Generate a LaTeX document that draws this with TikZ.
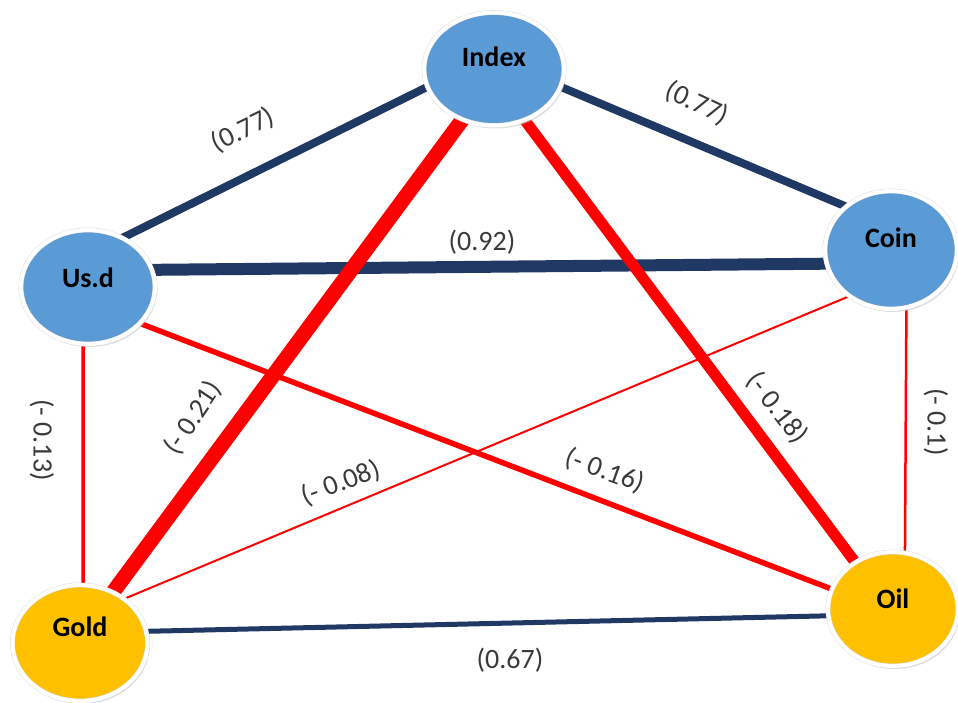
\documentclass[tikz,border=0pt]{standalone}
\usepackage{fontspec}
\setmainfont{Carlito}
\usepackage{tikz}
\usetikzlibrary{shapes,shadows,backgrounds}
\definecolor{navy}{HTML}{203864}
\definecolor{bubblue}{HTML}{5B9BD5}
\definecolor{bubgold}{HTML}{FFC000}
\definecolor{lblgray}{HTML}{3A3A3A}
\tikzset{bubble/.style={ellipse,inner sep=0pt,draw=gray!30,double=white,double distance=4pt,
   drop shadow={shadow xshift=2pt,shadow yshift=-3pt,fill=gray!50}},
 nodetxt/.style={font=\fontsize{28}{30}\selectfont\bfseries,text=black},
 poscor/.style={draw=navy,line cap=butt},
 negcor/.style={draw=red,line cap=butt},
 val/.style={text=lblgray,font=\fontsize{28}{30}\selectfont,inner sep=1pt},
 }

\begin{document}
\begin{tikzpicture}[x=1pt,y=-1pt]
        \useasboundingbox (0,0) rectangle (958,702);
        \node[bubble,fill=bubblue,minimum width=140pt,minimum height=113pt,
            label={[nodetxt,yshift=12pt]center:Index}] (index) at (494,69) {};
        \node[bubble,fill=bubblue,minimum width=134pt,minimum height=114pt,
            label={[nodetxt,yshift=9pt]center:Us.d}] (usd) at (88,287) {};
        \node[bubble,fill=bubblue,minimum width=132pt,minimum height=118pt,
            label={[nodetxt,yshift=12pt]center:Coin}] (coin) at (891,250) {};
        \node[bubble,fill=bubgold,minimum width=135pt,minimum height=116pt,
            label={[nodetxt,yshift=16pt]center:Gold}] (gold) at (80,643) {};
        \node[bubble,fill=bubgold,minimum width=130pt,minimum height=114pt,
            label={[nodetxt,yshift=10pt]center:Oil}] (oil) at (893,609) {};

        \begin{scope}[on background layer]
        \draw[poscor,line width=8pt] (usd.55) -- (index.195);
        \draw[poscor,line width=8pt] (index.-15) -- (coin.136);
        \draw[poscor,line width=12pt] (usd.15) -- (coin.192);
        \draw[poscor,line width=5pt] (gold.10) -- (oil.186);
        \draw[negcor,line width=15pt] (index.238) -- (gold.57);
        \draw[negcor,line width=11pt] (index.301) -- (oil.129);
        \draw[negcor,line width=5.5pt] (usd.-35) -- (oil.162);
        \draw[negcor,line width=2pt] (coin.228) -- (gold.45);
        \draw[negcor,line width=3.5pt] (usd.-95) -- (gold.87);
        \draw[negcor,line width=2.5pt] (coin.285) -- (oil.78);
        \end{scope}

        \node[val,rotate=26] (v1) at (243,130) {(0.77)};
        \node[val,rotate=-25] (v2) at (697,103) {(0.77)};
        \node[val] (v3) at (482,242) {(0.92)};
        \node[val,rotate=56] (v4) at (193,418) {(- 0.21)};
        \node[val,rotate=-90] (v5) at (42,440) {(- 0.13)};
        \node[val,rotate=21] (v6) at (341,483) {(- 0.08)};
        \node[val,rotate=-20] (v7) at (605,471) {(- 0.16)};
        \node[val,rotate=-52] (v8) at (777,408) {(- 0.18)};
        \node[val,rotate=-90] (v9) at (936,422) {(- 0.1)};
        \node[val] (v10) at (510,660) {(0.67)};
    \end{tikzpicture}
\end{document}
